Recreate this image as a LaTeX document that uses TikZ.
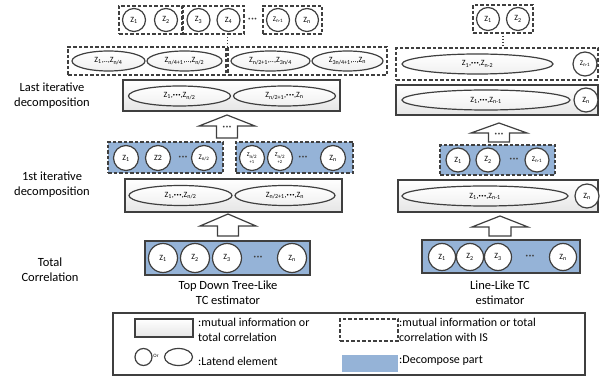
\documentclass[tikz,border=0pt]{standalone}
\usepackage{fontspec}
\setmainfont{Carlito}
\usetikzlibrary{shapes.geometric}
\definecolor{edgec}{HTML}{3F3F3F}
\definecolor{decomp}{HTML}{95B3D7}
\newcommand\Zsub[1]{Z\textsubscript{#1}}
\newcommand\bdots{\textbullet\hspace{0.6pt}\textbullet\hspace{0.6pt}\textbullet}
\newcommand\edots{{\fontsize{4.5}{5}\selectfont\raisebox{1pt}{\bdots}}}
\tikzset{
  lat/.style={circle, draw=edgec, line width=1.2pt, fill=white, inner sep=0pt, minimum size=#1, font=\fontsize{8}{9}\selectfont},
  ell/.style={ellipse, draw=edgec, line width=1.2pt, top color=white, bottom color=black!6, inner sep=0pt, minimum height=20pt, minimum width=#1, font=\fontsize{8}{9}\selectfont},
  mibox/.style={rectangle, draw=edgec, line width=1.2pt, top color=white, bottom color=black!10, inner sep=0pt},
  isbox/.style={rectangle, draw=edgec, line width=1.5pt, dash pattern=on 3.5pt off 2pt, inner sep=0pt},
  decbox/.style={isbox, fill=decomp},
  barrow/.style={draw=edgec, line width=1.2pt, fill=white, line join=miter},
  dotsn/.style={font=\fontsize{5}{5}\selectfont, text=edgec, inner sep=0pt},
  lbl/.style={align=center, font=\fontsize{12.5}{15}\selectfont},
  leg/.style={align=left, anchor=west, inner sep=0pt, font=\fontsize{12}{14.5}\selectfont},
  dotline/.style={draw=edgec, line width=1.5pt, dash pattern=on 1.5pt off 1.5pt}
}
\begin{document}
\begin{tikzpicture}[x=1pt,y=-1pt]
\useasboundingbox (0,0) rectangle (600,379);

% ---------------- left column ----------------
% top row of latent elements
\node[isbox, minimum width=63pt, minimum height=28pt] (gA) at (150.5,20) {};
\node[isbox, minimum width=61pt, minimum height=28pt] (gB) at (213.5,20) {};
\node[isbox, minimum width=59pt, minimum height=28pt] (gC) at (292.5,20) {};
\node[lat=23pt] (t1) at (134,20) {\Zsub{1}};
\node[lat=23pt] (t2) at (166,20) {\Zsub{2}};
\node[lat=23pt] (t3) at (198.5,20) {\Zsub{3}};
\node[lat=23pt] (t4) at (228.5,20) {\Zsub{4}};
\node[dotsn] (td) at (252.5,19) {\bdots};
\node[lat=23pt, font=\fontsize{7}{8}\selectfont] (t5) at (278,20) {\Zsub{n-1}};
\node[lat=23pt] (t6) at (307,20) {\Zsub{n}};

% second row
\node[isbox, minimum width=158pt, minimum height=28pt] (r2L) at (147,61) {};
\node[isbox, minimum width=159pt, minimum height=28pt] (r2R) at (307.5,61) {};
\node[ell=73pt] (e1) at (108.5,61) {\Zsub{1},..,\Zsub{n/4}};
\node[ell=75pt] (e2) at (184.5,61) {\Zsub{n/4+1},..,\Zsub{n/2}};
\node[ell=79pt] (e3) at (270.5,61) {\Zsub{n/2+1},..,\Zsub{3n/4}};
\node[ell=71pt] (e4) at (347.5,61) {\Zsub{3n/4+1},..,\Zsub{n}};
\coordinate (tdot1) at (227.5,34);
\coordinate (tdot2) at (227.5,47);
\draw[dotline] (tdot1) -- (tdot2);

% last iterative decomposition
\node[mibox, minimum width=217pt, minimum height=31pt] (last) at (231.5,95.5) {};
\node[ell=102pt] (l1) at (179.5,96) {\Zsub{1},\edots,\Zsub{n/2}};
\node[ell=102pt] (l2) at (284.5,96) {\Zsub{n/2+1},\edots,\Zsub{n}};

% arrow with dots
\draw[barrow] (216.5,138) -- (216.5,126) -- (199,126) -- (227,115) -- (255,126) -- (237.5,126) -- (237.5,138) -- cycle;
\node[dotsn] (a1d) at (227,127) {\bdots};

% 1st iteration decompose parts
\node[decbox, minimum width=115pt, minimum height=31pt] (d1) at (165.5,157.5) {};
\node[decbox, minimum width=117pt, minimum height=31pt] (d2) at (294.5,157.5) {};
\node[lat=25pt] (f1) at (126,158) {\Zsub{1}};
\node[lat=25pt] (f2) at (158,158) {Z2};
\node[dotsn] (fd1) at (183,157) {\bdots};
\node[lat=25pt, font=\fontsize{7}{8}\selectfont] (f3) at (204,158) {\Zsub{n/2}};
\node[lat=25pt, align=center, font=\fontsize{6}{6.5}\selectfont] (f4) at (252,158) {\Zsub{n/2}\\{\fontsize{4.5}{5}\selectfont +1}};
\node[lat=25pt, align=center, font=\fontsize{6}{6.5}\selectfont] (f5) at (280,158) {\Zsub{n/2}\\{\fontsize{4.5}{5}\selectfont +2}};
\node[dotsn] (fd2) at (303,157) {\bdots};
\node[lat=25pt] (f6) at (333,158) {\Zsub{n}};

% 1st iterative decomposition
\node[mibox, minimum width=217pt, minimum height=33pt] (first) at (233.5,195.5) {};
\node[ell=103pt] (m1) at (180.5,195.5) {\Zsub{1},\edots,\Zsub{n/2}};
\node[ell=100pt] (m2) at (285,195.5) {\Zsub{n/2+1},\edots,\Zsub{n}};

% arrow
\draw[barrow] (217.5,236) -- (217.5,226) -- (200,226) -- (228,214) -- (256,226) -- (238.5,226) -- (238.5,236) -- cycle;

% total correlation
\node[mibox, top color=decomp, bottom color=decomp, minimum width=165pt, minimum height=34pt] (tot) at (227.5,258) {};
\node[lat=29pt] (c1) at (163,258) {\Zsub{1}};
\node[lat=29pt] (c2) at (195,258) {\Zsub{2}};
\node[lat=29pt] (c3) at (227,258) {\Zsub{3}};
\node[dotsn] (cd) at (258,257) {\bdots};
\node[lat=29pt] (c4) at (292,258) {\Zsub{n}};

% ---------------- right column ----------------
\node[isbox, minimum width=60pt, minimum height=28pt] (rg) at (503,19) {};
\node[lat=23pt] (rt1) at (488,19) {\Zsub{1}};
\node[lat=23pt] (rt2) at (518,19) {\Zsub{2}};
\coordinate (rdot1) at (503,33);
\coordinate (rdot2) at (503,48);
\draw[dotline] (rdot1) -- (rdot2);

\node[isbox, minimum width=202pt, minimum height=32pt] (rr2) at (497,64) {};
\node[ell=151pt] (re1) at (477.5,64) {\Zsub{1},\edots,\Zsub{n-2}};
\node[lat=24pt, font=\fontsize{7}{8}\selectfont] (rz1) at (585,64) {\Zsub{n-1}};

\node[mibox, minimum width=202pt, minimum height=30pt] (rlast) at (497,100) {};
\node[ell=168pt] (re2) at (486,100) {\Zsub{1},\edots,\Zsub{n-1}};
\node[lat=24pt] (rz2) at (586,100) {\Zsub{n}};

\draw[barrow] (488.5,142) -- (488.5,133) -- (471,133) -- (499,123) -- (527,133) -- (509.5,133) -- (509.5,142) -- cycle;
\node[dotsn] (ra1d) at (499,134) {\bdots};

\node[decbox, minimum width=115pt, minimum height=30pt] (rd) at (497.5,160) {};
\node[lat=24pt] (rf1) at (458,160) {\Zsub{1}};
\node[lat=24pt] (rf2) at (488,160) {\Zsub{2}};
\node[dotsn] (rfd) at (514,159) {\bdots};
\node[lat=24pt, font=\fontsize{7}{8}\selectfont] (rf3) at (537,160) {\Zsub{n-1}};

\node[mibox, minimum width=200pt, minimum height=32pt] (rfirst) at (498,196) {};
\node[ell=166pt] (re3) at (485,196) {\Zsub{1},\edots,\Zsub{n-1}};
\node[lat=24pt] (rz3) at (587,196) {\Zsub{n}};

\draw[barrow] (489,236) -- (489,227) -- (472,227) -- (500,216) -- (528,227) -- (511,227) -- (511,236) -- cycle;

\node[mibox, top color=decomp, bottom color=decomp, minimum width=158pt, minimum height=33pt] (rtot) at (501,256.5) {};
\node[lat=27pt] (rc1) at (442,257) {\Zsub{1}};
\node[lat=27pt] (rc2) at (470,257) {\Zsub{2}};
\node[lat=27pt] (rc3) at (498,257) {\Zsub{3}};
\node[dotsn] (rcd) at (530,256) {\bdots};
\node[lat=27pt] (rc4) at (563,257) {\Zsub{n}};

% ---------------- labels ----------------
\node[lbl] (lab1) at (52,95.5) {Last iterative\\decomposition};
\node[lbl] (lab2) at (52,184.5) {1st iterative\\decomposition};
\node[lbl] (lab3) at (50,269.5) {Total\\Correlation};
\node[lbl] (cap1) at (228,292.5) {Top Down Tree-Like\\TC estimator};
\node[lbl] (cap2) at (500,292.5) {Line-Like TC\\estimator};

% ---------------- legend ----------------
\node[rectangle, draw=edgec, line width=1.2pt, fill=white, minimum width=472pt, minimum height=62pt] (legend) at (349,344) {};
\node[mibox, minimum width=58pt, minimum height=18pt] (lg1) at (164,328) {};
\node[leg] (lt1) at (198,330) {:mutual information or\\total correlation};
\node[circle, draw=edgec, line width=1.2pt, minimum size=17pt, inner sep=0pt] (lg2) at (143.5,357) {};
\node[font=\fontsize{5}{5}\selectfont, inner sep=0pt] (lor) at (156,356) {Or};
\node[ellipse, draw=edgec, line width=1.2pt, minimum width=28pt, minimum height=17pt, inner sep=0pt] (lg3) at (178.5,357) {};
\node[leg] (lt2) at (198,361) {:Latend element};
\node[isbox, line width=1.2pt, minimum width=58pt, minimum height=22pt] (lg4) at (369,330) {};
\node[leg] (lt3) at (399,330) {:mutual information or total\\correlation with IS};
\node[rectangle, fill=decomp, minimum width=56pt, minimum height=17pt, inner sep=0pt] (lg5) at (370,363.5) {};
\node[leg] (lt4) at (399,361) {:Decompose part};
\end{tikzpicture}
\end{document}
